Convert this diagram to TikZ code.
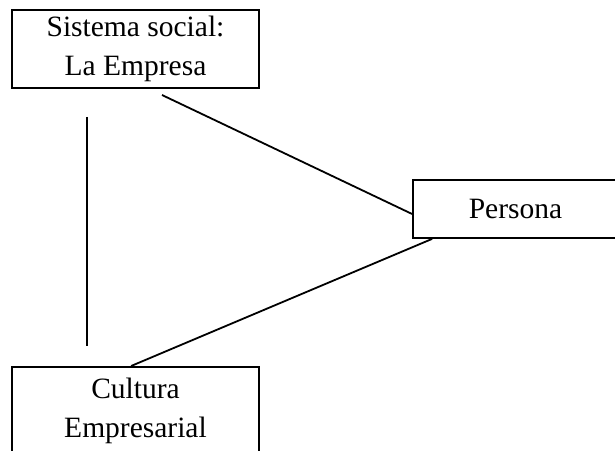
\documentclass[tikz,border=0pt]{standalone}
\usepackage{fontspec}
\setmainfont{Liberation Serif}
\usetikzlibrary{calc}
\begin{document}
\begin{tikzpicture}[x=1pt,y=1pt,
  boxstyle/.style={draw=black, line width=1.8pt, inner sep=0pt},
  txt/.style={font=\fontsize{29.5}{39}\selectfont, align=center, inner sep=0pt},
  conn/.style={draw=black, line width=1.8pt}]
\clip (0,0) rectangle (615,450);
\fill[white] (0,0) rectangle (615,450);
% top box
\node[boxstyle, txt, minimum width=247pt, minimum height=78pt] (emp) at (135.5,401) {Sistema social:\\La Empresa};
% persona box (right edge off page)
\node[boxstyle, txt, minimum width=205pt, minimum height=58pt] (pers) at (515.5,241) {Persona};
% bottom box (bottom edge off page)
\node[boxstyle, minimum width=247pt, minimum height=100pt, anchor=north] (cultbox) at (135.5,84) {};
\node[txt] (cult) at (135.5,39) {Cultura\\Empresarial};
% connector ends
\coordinate (v1) at (87,333);
\coordinate (v2) at (87,104);
\coordinate (d1) at (162,355);
\coordinate (d2) at ($(cultbox.north west)+(120,0)$);
\draw[conn] (v1) -- (v2);
\draw[conn] (d1) -- ($(pers.west)+(0,-5)$);
\draw[conn] (d2) -- ($(pers.south west)+(20,0)$);
\end{tikzpicture}
\end{document}
